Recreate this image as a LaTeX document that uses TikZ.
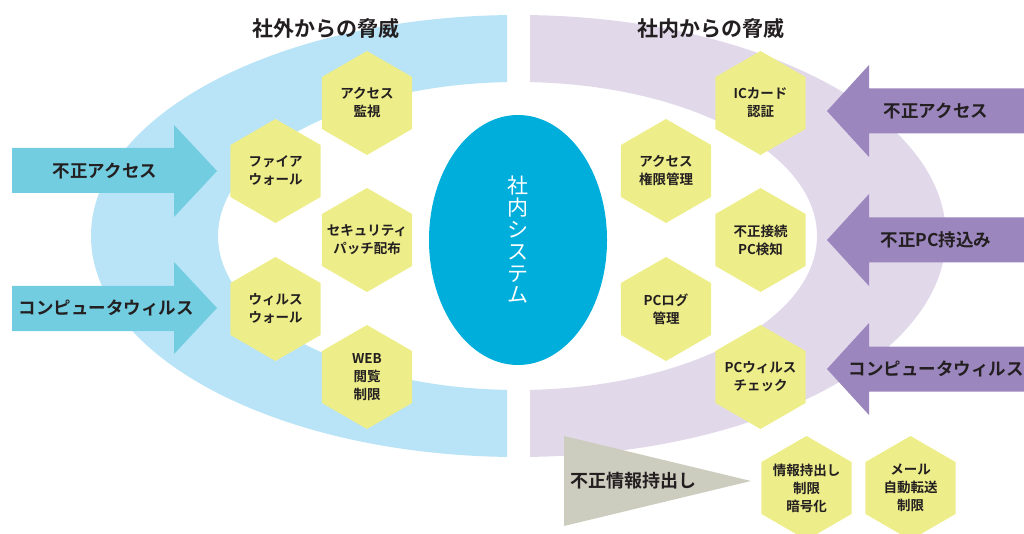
\documentclass[tikz,border=0pt]{standalone}
\usepackage{fontspec}
\setmainfont{Noto Sans CJK JP}[BoldFont={Noto Sans CJK JP Bold}]
\usetikzlibrary{shapes.geometric}
\definecolor{bandL}{HTML}{B9E4F7}
\definecolor{bandR}{HTML}{E1D8EA}
\definecolor{arrL}{HTML}{72CDE0}
\definecolor{arrR}{HTML}{9B86BD}
\definecolor{core}{HTML}{00AEDC}
\definecolor{hexY}{HTML}{EDED8A}
\definecolor{triG}{HTML}{CDCDBF}
\definecolor{ink}{HTML}{231F20}
\tikzset{
  hexa/.style={regular polygon, regular polygon sides=6, shape border rotate=30,
    minimum size=104pt, inner sep=0pt, fill=hexY},
  hextext/.style={text=ink, align=center, inner sep=0pt,
    font=\bfseries\fontsize{13.5}{18}\selectfont},
  title/.style={text=ink, font=\bfseries\fontsize{21}{24}\selectfont, inner sep=0pt},
  arrtext/.style={text=ink, font=\bfseries\fontsize{17.5}{20}\selectfont, inner sep=0pt},
}
\newcommand{\hexnode}[3]{%
  \node[hexa] (#1) at (#2) {};
  \node[hextext] (#1t) at (#1) {#3};
}
\begin{document}
\begin{tikzpicture}[x=1pt,y=-1pt]
\useasboundingbox (0,0) rectangle (1024,534);
% bands
\begin{scope}
\clip (0,0) rectangle (507,534);
\fill[bandL,even odd rule] (518,236) ellipse [x radius=427pt, y radius=221pt]
  (518,236) ellipse [x radius=300pt, y radius=154pt];
\end{scope}
\begin{scope}
\clip (530,0) rectangle (1024,534);
\fill[bandR,even odd rule] (518,236) ellipse [x radius=428pt, y radius=221pt]
  (518,236) ellipse [x radius=299pt, y radius=154pt];
\end{scope}
% titles
\node[title] (tL) at (326,28) {社外からの脅威};
\node[title] (tR) at (711,28) {社内からの脅威};
% core
\node[ellipse, fill=core, minimum width=178pt, minimum height=250pt, inner sep=0pt,
  text=white, align=center, font=\fontsize{21}{21.8}\selectfont] (core) at (518,240)
  {社\\内\\シ\\ス\\テ\\ム};
% left arrows
\fill[arrL] (12,148) -- (174,148) -- (174,125) -- (217,171) -- (174,217) -- (174,193) -- (12,193) -- cycle;
\node[arrtext] (aL1) at (105,171) {不正アクセス};
\fill[arrL] (12,286) -- (174,286) -- (174,262) -- (217,308) -- (174,354) -- (174,331) -- (12,331) -- cycle;
\node[arrtext] (aL2) at (106,308) {コンピュータウィルス};
% right arrows
\foreach \yy/\nm/\tx in {111/aR1/不正アクセス, 240/aR2/不正PC持込み, 369/aR3/コンピュータウィルス}{
  \fill[arrR] (1024,\yy-22.5) -- (869,\yy-22.5) -- (869,\yy-46) -- (827,\yy) -- (869,\yy+46) -- (869,\yy+22.5) -- (1024,\yy+22.5) -- cycle;
  \node[arrtext] (\nm) at (936,\yy) {\tx};
}
% gray triangle
\fill[triG] (564,436) -- (751,481) -- (564,526) -- cycle;
\node[arrtext, font=\bfseries\fontsize{18}{20}\selectfont] (leak) at (633,481) {不正情報持出し};
% left hexes
\hexnode{h1}{367,103}{アクセス\\監視}
\hexnode{h2}{275.5,171}{ファイア\\ウォール}
\hexnode{h3}{367,240}{セキュリティ\\パッチ配布}
\hexnode{h4}{275.5,309}{ウィルス\\ウォール}
\hexnode{h5}{367,377}{WEB\\閲覧\\制限}
% right hexes
\hexnode{r1}{760.5,103}{ICカード\\認証}
\hexnode{r2}{666,171}{アクセス\\権限管理}
\hexnode{r3}{760.5,240}{不正接続\\PC検知}
\hexnode{r4}{666,309}{PCログ\\管理}
\hexnode{r5}{760.5,377}{PCウィルス\\チェック}
\hexnode{r6}{806.5,488}{情報持出し\\制限\\暗号化}
\hexnode{r7}{910.5,488}{メール\\自動転送\\制限}
\end{tikzpicture}
\end{document}
